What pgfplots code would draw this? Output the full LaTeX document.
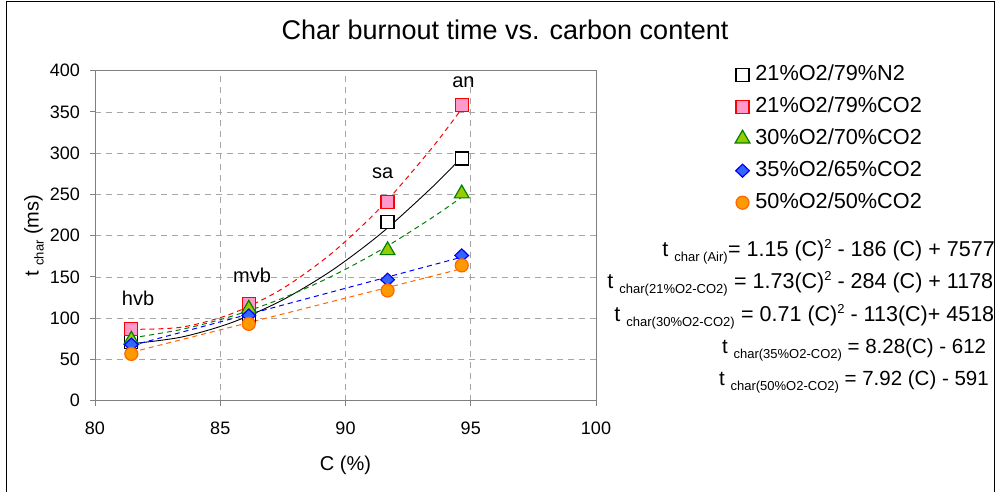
\documentclass[border=0pt]{standalone}
\usepackage{fontspec}
\setmainfont{Liberation Sans}
\usepackage{pgfplots}
\pgfplotsset{compat=1.18}
\definecolor{pinkf}{HTML}{FF99CC}
\definecolor{rede}{HTML}{FF0000}
\definecolor{greenf}{HTML}{99CC00}
\definecolor{greene}{HTML}{008000}
\definecolor{bluef}{HTML}{3366FF}
\definecolor{bluee}{HTML}{0000FF}
\definecolor{orangef}{HTML}{FF9900}
\definecolor{orangee}{HTML}{FF6600}
\definecolor{axgray}{HTML}{808080}
\newcommand\fs[1]{\fontsize{#1}{#1}\selectfont}
\newcommand\sub[1]{\raisebox{-5pt}{\fs{13}#1}}
\newcommand\super[1]{\raisebox{8.5pt}{\fs{13}#1}}
\pgfplotsset{mylegimg/.style={legend image code/.code={\draw[mark repeat=2,mark phase=2,##1] plot coordinates {(0pt,0pt) (6pt,0pt) (12pt,0pt)};}}}
\begin{document}
\begin{tikzpicture}[x=1pt,y=1pt]
\useasboundingbox (0,0) rectangle (995,492);
\draw[line width=1.2pt] (6.5,0) -- (6.5,490.5) -- (994.6,490.5) -- (994.6,0);
\node[font=\fs{27}] at (505,462) {Char burnout time vs. carbon content};
\begin{axis}[
  at={(95pt,91.3pt)}, anchor=south west,
  width=501pt, height=330pt, scale only axis,
  xmin=80, xmax=100, ymin=0, ymax=400,
  xtick={80,85,90,95,100}, ytick={0,50,...,400},
  grid=major,
  major grid style={axgray!70, dash pattern=on 6pt off 5pt, line width=0.8pt},
  axis line style={axgray, line width=1pt},
  tick style={axgray, line width=1pt},
  tick align=outside, major tick length=5pt, tick pos=left,
  ticklabel style={font=\fs{18}},
  /pgf/number format/assume math mode=true,
  yticklabel style={inner sep=0pt, xshift=-10pt},
  xticklabel style={inner sep=0pt, yshift=-16pt},
  xlabel={C (\%)}, xlabel style={font=\fs{20}, at={(axis description cs:0.5,-0.195)}, anchor=center},
  ylabel={t \sub{char} (ms)}, ylabel style={font=\fs{20}, at={(axis description cs:-0.122,0.5)}, anchor=center},
  legend style={at={(axis description cs:1.2774,1.0173)}, anchor=north west, draw=none, fill=none,
    inner xsep=0pt, inner ysep=0pt, font=\fs{21.7},
    nodes={inner sep=0pt, text height=15pt, text depth=4pt},
    column sep=5.5pt, row sep=13pt},
  legend cell align=left,
]
\addplot[only marks, mylegimg, mark=square*, mark size=6.5pt, mark options={fill=white, draw=black, line width=1.2pt}]
  coordinates {(81.45,70.9) (86.14,101) (91.68,216.6) (94.64,293.5)};
\addlegendentry{21\%O2/79\%N2}
\addplot[only marks, mylegimg, mark=square*, mark size=6.5pt, mark options={fill=pinkf, draw=rede, line width=1.2pt}]
  coordinates {(81.45,87) (86.14,117.4) (91.68,240.9) (94.64,358.3)};
\addlegendentry{21\%O2/79\%CO2}
\addplot[only marks, mylegimg, mark=triangle*, mark size=8.5pt, mark options={fill=greenf, draw=greene, line width=1.2pt}]
  coordinates {(81.45,73.7) (86.14,111.3) (91.68,182.2) (94.64,251)};
\addlegendentry{30\%O2/70\%CO2}
\addplot[only marks, mylegimg, mark=diamond*, mark size=6.5pt, mark options={fill=bluef, draw=bluee, line width=1.2pt, xscale=1.4}]
  coordinates {(81.45,68) (86.14,103.2) (91.68,146.6) (94.64,176.1)};
\addlegendentry{35\%O2/65\%CO2}
\addplot[only marks, mylegimg, mark=*, mark size=6.5pt, mark options={fill=orangef, draw=orangee, line width=1.2pt}]
  coordinates {(81.45,56.7) (86.14,93.1) (91.68,133.6) (94.64,164)};
\addlegendentry{50\%O2/50\%CO2}
% trend lines
\addplot[forget plot, smooth, black, line width=0.9pt]
  coordinates {(81.45,69) (83.45,77.1) (85.45,94.6) (87.45,121.5) (89.45,157.8) (91.45,203.5) (93.45,258.5) (94.64,295)};
\addplot[forget plot, smooth, rede, line width=1pt, dash pattern=on 5pt off 4pt]
  coordinates {(81.45,86.5) (83.45,89.1) (85.45,105.4) (87.45,135.2) (89.45,178.7) (91.45,235.7) (93.45,306.3) (94.64,354)};
\addplot[forget plot, smooth, greene, line width=1pt, dash pattern=on 5pt off 4pt]
  coordinates {(81.45,76) (83.45,86.4) (85.45,102.3) (87.45,123.8) (89.45,150.8) (91.45,183.5) (93.45,221.7) (94.64,246.7)};
\addplot[forget plot, bluee, line width=1pt, dash pattern=on 5pt off 4pt]
  coordinates {(81.45,66.7) (94.64,174)};
\addplot[forget plot, orangee, line width=1pt, dash pattern=on 5pt off 4pt]
  coordinates {(81.45,58.6) (94.64,160)};
\node[font=\fs{20}] at (axis cs:81.72,123.5) {hvb};
\node[font=\fs{20}] at (axis cs:86.27,151.8) {mvb};
\node[font=\fs{20}] at (axis cs:91.48,276) {sa};
\node[font=\fs{20}] at (axis cs:94.71,386.6) {an};
\end{axis}
% trend-line equations: left part ends before the "=" sign, right part starts with it
\begin{scope}[every node/.style={font=\fs{21.5}, inner sep=0pt}]
\node[anchor=base east] at (728,235) {t \sub{char (Air)}};
\node[anchor=base west] at (728,235) {= 1.15 (C)\super{2} - 186 (C) + 7577};
\node[anchor=base east] at (728,203) {t \sub{char(21\%O2-CO2)}};
\node[anchor=base west] at (734,203) {= 1.73(C)\super{2} - 284 (C) + 11781};
\node[anchor=base east] at (735,170) {t \sub{char(30\%O2-CO2)}};
\node[anchor=base west] at (741,170) {= 0.71 (C)\super{2} - 113(C)+ 4518};
\end{scope}
\begin{scope}[every node/.style={font=\fs{20.5}, inner sep=0pt}]
\node[anchor=base west] at (722,138) {t \sub{char(35\%O2-CO2)} = 8.28(C) - 612};
\node[anchor=base west] at (719,106) {t \sub{char(50\%O2-CO2)} = 7.92 (C) - 591};
\end{scope}
\end{tikzpicture}
\end{document}
